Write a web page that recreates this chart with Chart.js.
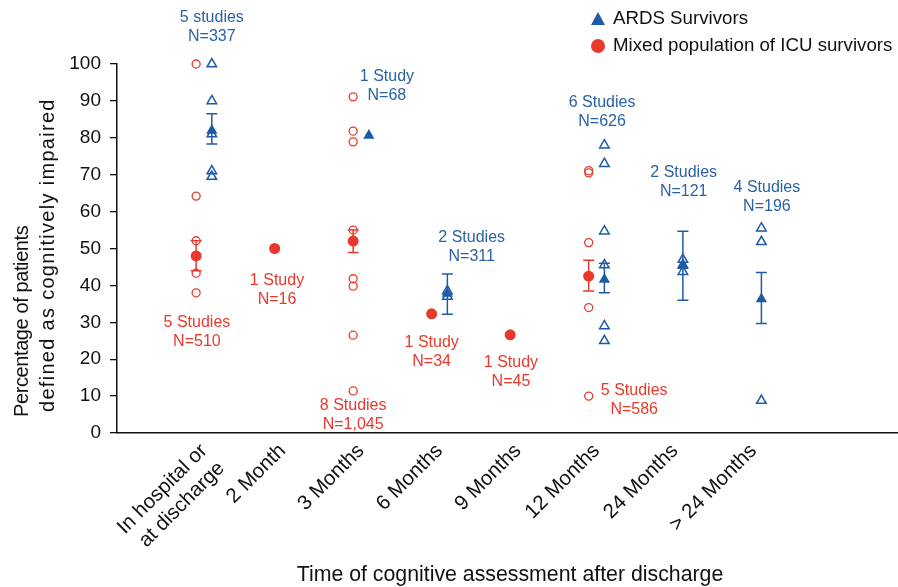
<!DOCTYPE html>
<html>
<head>
<meta charset="utf-8">
<title>Cognitive impairment after discharge</title>
<script src="https://cdn.jsdelivr.net/npm/chart.js@4.4.1/dist/chart.umd.min.js"></script>
<style>
    html, body { margin: 0; padding: 0; background: #fff; }
    #wrap { position: relative; width: 898px; height: 587px; }
</style>
</head>
<body>
<div id="wrap"><canvas id="cogChart"></canvas></div>
<script>
// Categories (x axis) and y ticks
const categories = [["In hospital or", "at discharge"], "2 Month", "3 Months", "6 Months", "9 Months", "12 Months", "24 Months", "> 24 Months"]
const yTickValues = [0, 10, 20, 30, 40, 50, 60, 70, 80, 90, 100]

// ARDS survivors: single studies, pooled estimate, error bar
const ardsStudies = [[100, 90, 81, 71, 69.5], [], [], [37, 38.5], [], [78, 73, 54.7, 45.5, 29, 25], [47, 45.5, 43.7], [55.5, 51.8, 8.8]]
const ardsMean = [82, null, 80.6, 37.8, null, 41.6, 45.3, 36.3]
const ardsLow = [78.3, null, null, 32.2, null, 38, 36, 29.7]
const ardsHigh = [86.5, null, null, 43.1, null, 46, 54.7, 43.5]
const ardsNotes = [["5 studies", "N=337"], null, ["1 Study", "N=68"], ["2 Studies", "N=311"], null, ["6 Studies", "N=626"], ["2 Studies", "N=121"], ["4 Studies", "N=196"]]

// Mixed population of ICU survivors
const mixedStudies = [[100, 64.2, 52.1, 43.3, 38], [], [91.1, 81.8, 78.9, 55, 41.8, 39.8, 26.5, 11.4], [], [], [71.1, 70.5, 51.6, 34, 10], [], []]
const mixedMean = [48, 50, 52, 32.3, 26.6, 42.5, null, null]
const mixedLow = [44, null, 48.9, null, null, 38.5, null, null]
const mixedHigh = [52.1, null, 55, null, null, 46.8, null, null]
const mixedNotes = [["5 Studies", "N=510"], ["1 Study", "N=16"], ["8 Studies", "N=1,045"], ["1 Study", "N=34"], ["1 Study", "N=45"], ["5 Studies", "N=586"], null, null]

const BLUE = "#1f5aa6"
const RED = "#e8392c"
const SHIFT = 0.1 // side-by-side offset of the two groups inside a category
const FONT = "'Liberation Sans', Arial, Helvetica, sans-serif"

// where the study-count labels sit (category offset, y value of first line)
const ardsNotePlace = [[0.1, 112.5], null, [2.33, 96.7], [3.41, 52.9], null, [5.07, 89.5], [6.11, 70.5], [7.17, 66.5]]
const mixedNotePlace = [[-0.09, 30], [0.93, 41.3], [1.9, 7.4], [2.9, 24.5], [3.91, 19.1], [5.48, 11.4], null, null]

Chart.defaults.font.family = FONT
Chart.defaults.color = "#111"

function studyPoints(studies, shift) {
    const pts = []
    studies.forEach((vals, i) => vals.forEach((v) => pts.push({ x: i + shift, y: v })))
    return pts
}

function meanPoints(means, shift) {
    return means.map((v, i) => (v == null ? null : { x: i + shift, y: v })).filter((p) => p)
}

const decorations = {
    id: "decorations",
    beforeDatasetsDraw(chart) {
        const { ctx, scales } = chart
        const drawBars = (low, high, shift, color) => {
            ctx.save()
            ctx.strokeStyle = color
            ctx.lineWidth = 1.5
            low.forEach((lo, i) => {
                if (lo == null) return
                const x = scales.x.getPixelForValue(i + shift)
                const y1 = scales.y.getPixelForValue(lo)
                const y2 = scales.y.getPixelForValue(high[i])
                ctx.beginPath()
                ctx.moveTo(x, y1); ctx.lineTo(x, y2)
                ctx.moveTo(x - 5.5, y1); ctx.lineTo(x + 5.5, y1)
                ctx.moveTo(x - 5.5, y2); ctx.lineTo(x + 5.5, y2)
                ctx.stroke()
            })
            ctx.restore()
        }
        drawBars(mixedLow, mixedHigh, -SHIFT, RED)
        drawBars(ardsLow, ardsHigh, SHIFT, BLUE)
    },
    afterDraw(chart) {
        const { ctx, scales } = chart
        ctx.save()
        ctx.textAlign = "center"
        ctx.textBaseline = "middle"

        // study counts
        ctx.font = "16px " + FONT
        const drawNotes = (notes, places, color) => {
            ctx.fillStyle = color
            notes.forEach((lines, i) => {
                if (!lines) return
                const x = scales.x.getPixelForValue(places[i][0])
                const y = scales.y.getPixelForValue(places[i][1])
                lines.forEach((t, k) => ctx.fillText(t, x, y + k * 19))
            })
        }
        drawNotes(ardsNotes, ardsNotePlace, "#2a62a8")
        drawNotes(mixedNotes, mixedNotePlace, RED)

        // legend
        ctx.fillStyle = BLUE
        ctx.beginPath()
        ctx.moveTo(598, 12); ctx.lineTo(605, 25); ctx.lineTo(591, 25)
        ctx.closePath(); ctx.fill()
        ctx.fillStyle = RED
        ctx.beginPath(); ctx.arc(598, 46, 7, 0, Math.PI * 2); ctx.fill()
        ctx.fillStyle = "#111"
        ctx.textAlign = "left"
        ctx.font = "18.7px " + FONT
        ctx.fillText("ARDS Survivors", 613, 19)
        ctx.fillText("Mixed population of ICU survivors", 613, 46)

        // x axis title
        ctx.textAlign = "center"
        ctx.font = "21.3px " + FONT
        ctx.fillText("Time of cognitive assessment after discharge", 510, 575)

        // y axis title, two lines reading upwards
        ctx.textAlign = "left"
        ctx.font = "20px " + FONT
        ctx.save()
        ctx.translate(22, 417)
        ctx.rotate(-Math.PI / 2)
        ctx.letterSpacing = "-0.4px"
        ctx.fillText("Percentage of patients", 0, 0)
        ctx.restore()
        ctx.save()
        ctx.translate(48, 412)
        ctx.rotate(-Math.PI / 2)
        ctx.letterSpacing = "1.3px"
        ctx.fillText("defined as cognitively impaired", 0, 0)
        ctx.restore()
        ctx.restore()
    },
}

document.addEventListener("DOMContentLoaded", () => {
    const ctx = document.getElementById("cogChart")
    new Chart(ctx.getContext("2d"), {
        type: "scatter",
        data: {
            datasets: [
                {
                    label: "Mixed population studies",
                    data: studyPoints(mixedStudies, -SHIFT),
                    pointStyle: "circle",
                    pointRadius: 4,
                    borderColor: RED,
                    backgroundColor: "rgba(255,255,255,0)",
                    borderWidth: 1.3,
                    clip: false,
                },
                {
                    label: "ARDS studies",
                    data: studyPoints(ardsStudies, SHIFT),
                    pointStyle: "triangle",
                    pointRadius: 5.5,
                    borderColor: BLUE,
                    backgroundColor: "rgba(255,255,255,0)",
                    borderWidth: 1.5,
                    clip: false,
                },
                {
                    label: "Mixed population of ICU survivors",
                    data: meanPoints(mixedMean, -SHIFT),
                    pointStyle: "circle",
                    pointRadius: 5.5,
                    borderColor: RED,
                    backgroundColor: RED,
                    borderWidth: 0,
                    clip: false,
                },
                {
                    label: "ARDS Survivors",
                    data: meanPoints(ardsMean, SHIFT),
                    pointStyle: "triangle",
                    pointRadius: 6.5,
                    borderColor: BLUE,
                    backgroundColor: BLUE,
                    borderWidth: 0,
                    clip: false,
                },
            ],
        },
        options: {
            responsive: true,
            maintainAspectRatio: false,
            animation: false,
            layout: { autoPadding: false, padding: { top: 64, left: 0, right: 0, bottom: 0 } },
            plugins: {
                legend: { display: false },
                tooltip: { enabled: false },
            },
            scales: {
                x: {
                    type: "linear",
                    min: -1.108,
                    max: 8.84,
                    afterBuildTicks: (scale) => {
                        scale.ticks = categories.map((c, i) => ({ value: i }))
                    },
                    afterFit: (scale) => {
                        scale.height = 154
                        scale.paddingLeft = 0
                        scale.paddingRight = 0
                    },
                    grid: { display: false, drawTicks: false },
                    border: { color: "#111", width: 1.5 },
                    ticks: {
                        autoSkip: false,
                        minRotation: 45,
                        maxRotation: 45,
                        padding: 6,
                        font: { size: 20.5 },
                        color: "#111",
                        callback: (value) => categories[value],
                    },
                },
                y: {
                    min: 0,
                    max: 100,
                    afterBuildTicks: (scale) => {
                        scale.ticks = yTickValues.map((v) => ({ value: v }))
                    },
                    afterFit: (scale) => {
                        scale.width = 117
                    },
                    grid: { drawOnChartArea: false, drawTicks: true, tickLength: 7, color: "#111", lineWidth: 1.3 },
                    border: { color: "#111", width: 1.5 },
                    ticks: {
                        padding: 9,
                        font: { size: 19 },
                        color: "#111",
                    },
                },
            },
        },
        plugins: [decorations],
    })
})
</script>
</body>
</html>
